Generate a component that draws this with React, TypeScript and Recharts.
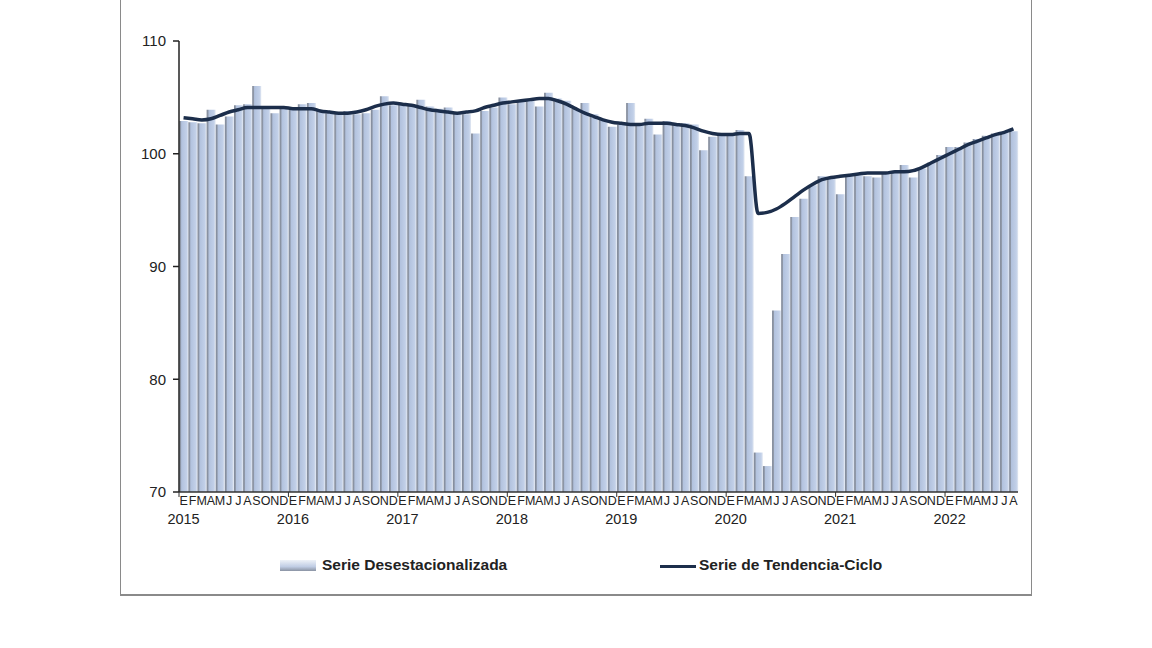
import React from 'react';
import { ComposedChart, Bar, Line, XAxis, YAxis } from 'recharts';

const monthLetters = ['E', 'F', 'M', 'A', 'M', 'J', 'J', 'A', 'S', 'O', 'N', 'D'];
const years = ['2015', '2016', '2017', '2018', '2019', '2020', '2021', '2022'];
const yTicks = [70, 80, 90, 100, 110];

// Serie Desestacionalizada, ene 2015 - ago 2022
const desestacionalizada = [
  102.9, 102.8, 102.7, 103.9, 102.6, 103.3, 104.3, 104.4, 106.0, 104.1, 103.6, 104.1,
  104.0, 104.4, 104.5, 103.8, 103.6, 103.7, 103.8, 103.5, 103.6, 103.9, 105.1, 104.3,
  104.4, 104.3, 104.8, 104.2, 104.0, 104.1, 103.6, 103.5, 101.8, 103.8, 104.1, 105.0,
  104.4, 104.6, 104.7, 104.2, 105.4, 104.9, 104.7, 104.0, 104.5, 103.5, 103.0, 102.4,
  102.6, 104.5, 102.6, 103.1, 101.7, 102.9, 102.6, 102.7, 102.6, 100.3, 101.5, 101.8,
  101.7, 102.1, 98.0, 73.5, 72.3, 86.1, 91.1, 94.4, 96.0, 97.2, 98.0, 97.9,
  96.4, 98.0, 98.1, 98.0, 97.9, 98.2, 98.3, 99.0, 97.9, 98.7, 99.2, 99.9,
  100.6, 100.6, 101.0, 101.3, 101.6, 101.8, 101.9, 102.0,
];

// Serie de Tendencia-Ciclo
const tendenciaCiclo = [
  103.2, 103.1, 103.0, 103.1, 103.4, 103.7, 103.9, 104.1, 104.1, 104.1, 104.1, 104.1,
  104.0, 104.0, 104.0, 103.8, 103.7, 103.6, 103.6, 103.7, 103.9, 104.2, 104.4, 104.5,
  104.4, 104.3, 104.1, 103.9, 103.8, 103.7, 103.6, 103.7, 103.8, 104.1, 104.3, 104.5,
  104.6, 104.7, 104.8, 104.9, 104.9, 104.7, 104.4, 104.0, 103.6, 103.3, 103.0, 102.8,
  102.7, 102.6, 102.6, 102.7, 102.7, 102.7, 102.6, 102.5, 102.3, 102.0, 101.8, 101.7,
  101.7, 101.8, 101.8, 94.7, 94.8, 95.1, 95.6, 96.2, 96.8, 97.3, 97.7, 97.9,
  98.0, 98.1, 98.2, 98.3, 98.3, 98.3, 98.4, 98.4, 98.5, 98.8, 99.2, 99.6,
  100.0, 100.4, 100.8, 101.1, 101.4, 101.7, 101.9, 102.2,
];

const data = desestacionalizada.map((v, i) => ({
  key: String(i),
  des: v,
  tend: tendenciaCiclo[i],
}));

const FONT = '"Liberation Sans", Arial, sans-serif';
const BAND = 839 / data.length;

const MonthTick = (props: any) => {
  const { x, y, payload } = props;
  const i = payload.index;
  return (
    <g>
      {i % 12 === 0 && (
        <line x1={x - BAND / 2} x2={x - BAND / 2} y1={y} y2={y + 5} stroke="#333" strokeWidth={1} />
      )}
      <text x={x} y={y + 13} textAnchor="middle" fontSize={12.5} fill="#222" fontFamily={FONT}>
        {monthLetters[i % 12]}
      </text>
    </g>
  );
};

const YearTick = (props: any) => {
  const { x, y, payload } = props;
  const i = payload.index;
  if (i % 12 !== 0) return <g />;
  return (
    <text x={x} y={y + 14} textAnchor="middle" fontSize={14.5} fill="#222" fontFamily={FONT}>
      {years[Math.floor(i / 12)]}
    </text>
  );
};

export default function App() {
  return (
    <div style={{ position: 'absolute', left: 0, top: 0, width: 1152, height: 648, background: '#fff', fontFamily: FONT }}>
      <div style={{ position: 'absolute', left: 120, top: -2, width: 910, height: 595, border: '1px solid #8a8a8a', borderBottomWidth: 2 }} />
      <div style={{ position: 'absolute', left: 0, top: 0 }}>
        <ComposedChart
          width={1152}
          height={648}
          data={data}
          margin={{ top: 41, right: 134, left: 119, bottom: 116 }}
          barCategoryGap="3%"
        >
          <defs>
            <linearGradient id="barFill" x1="0" y1="0" x2="1" y2="0">
              <stop offset="0%" stopColor="#7f8797" />
              <stop offset="16%" stopColor="#8f98a8" />
              <stop offset="26%" stopColor="#b2c2de" />
              <stop offset="80%" stopColor="#c2d0e8" />
              <stop offset="100%" stopColor="#e2e8f2" />
            </linearGradient>
          </defs>
          <XAxis
            dataKey="key"
            interval={0}
            tickSize={0}
            tickMargin={0}
            height={18}
            axisLine={{ stroke: '#333', strokeWidth: 1.5 }}
            tickLine={false}
            tick={<MonthTick />}
          />
          <XAxis
            xAxisId="yr"
            dataKey="key"
            interval={0}
            tickSize={0}
            tickMargin={0}
            height={22}
            axisLine={false}
            tickLine={false}
            tick={<YearTick />}
          />
          <YAxis
            domain={[70, 110]}
            ticks={yTicks}
            width={60}
            tickSize={6}
            tickMargin={7}
            axisLine={{ stroke: '#222', strokeWidth: 1.5 }}
            tickLine={{ stroke: '#222', strokeWidth: 1.5 }}
            tick={{ fontSize: 15, fill: '#222', fontFamily: FONT }}
            allowDataOverflow
          />
          <Bar dataKey="des" fill="url(#barFill)" isAnimationActive={false} />
          <Line
            dataKey="tend"
            type="monotone"
            stroke="#1c2e4b"
            strokeWidth={3.5}
            dot={false}
            activeDot={false}
            isAnimationActive={false}
          />
        </ComposedChart>
      </div>
      <div style={{ position: 'absolute', left: 280, top: 560, width: 36, height: 11, background: 'linear-gradient(#eef2f8, #c0cde4 60%, #8a93a3)' }} />
      <div style={{ position: 'absolute', left: 322, top: 556, fontSize: 15.5, fontWeight: 'bold', color: '#222', whiteSpace: 'nowrap' }}>
        Serie Desestacionalizada
      </div>
      <div style={{ position: 'absolute', left: 660, top: 565, width: 36, height: 3, background: '#1c2e4b' }} />
      <div style={{ position: 'absolute', left: 699, top: 556, fontSize: 15.5, fontWeight: 'bold', color: '#222', whiteSpace: 'nowrap' }}>
        Serie de Tendencia-Ciclo
      </div>
    </div>
  );
}
